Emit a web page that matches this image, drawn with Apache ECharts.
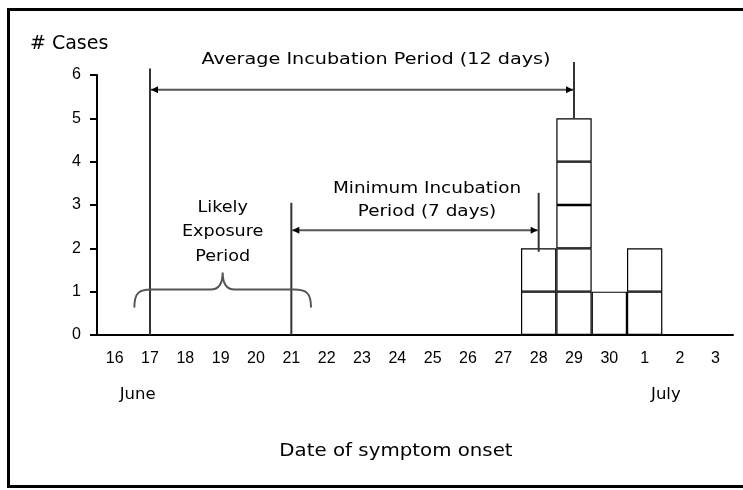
<!DOCTYPE html>
<html>
<head>
<meta charset="utf-8">
<script src="https://cdn.jsdelivr.net/npm/echarts@6/dist/echarts.min.js"></script>
<style>
    html, body { margin: 0; padding: 0; background: #fff; }
    #chart { width: 743px; height: 490px; }
</style>
</head>
<body>
<div id="chart"></div>
<script>
    // onset days, June 16 -> July 3
    const days = ['16', '17', '18', '19', '20', '21', '22', '23', '24', '25', '26', '27', '28', '29', '30', '1', '2', '3'];
    const cases = [0, 0, 0, 0, 0, 0, 0, 0, 0, 0, 0, 0, 2, 5, 1, 2, 0, 0];
    const yTicks = [0, 1, 2, 3, 4, 5, 6];

    // annotation lines: [day, from, to]
    const markers = [['17', 0, 6.15], ['29', 5, 6.3], ['21', 0, 3.05], ['28', 1.92, 3.28]];
    const averagePeriod = { from: '17', to: '29', level: 5.66 };
    const minimumPeriod = { from: '21', to: '28', level: 2.42 };
    const exposurePeriod = { from: '17', to: '21', level: 1.05 };

    const FONT = '"DejaVu Sans", sans-serif';

    // one stacked layer per case so every case is its own box
    const maxCases = Math.max.apply(null, cases);
    const layers = [];
    for (let k = 1; k <= maxCases; k++) {
        layers.push({
            type: 'bar',
            stack: 'cases',
            barCategoryGap: '0%',
            data: cases.map(c => (c >= k ? 1 : '-')),
            itemStyle: { color: '#fff', borderColor: '#000', borderWidth: 1.2 },
            emphasis: { disabled: true },
            silent: true
        });
    }

    function arrowHead (x, y, dir) {
        return {
            type: 'polygon',
            shape: { points: [[x, y], [x - dir * 7, y - 3.5], [x - dir * 7, y + 3.5]] },
            style: { fill: '#000' }
        };
    }

    // slightly widened to match the loose letter spacing of the original
    function text (str, x, y, size, sx) {
        return {
            type: 'text',
            x: x,
            y: y,
            scaleX: sx || 1,
            style: {
                text: str, x: 0, y: 0, align: 'center', verticalAlign: 'middle',
                font: size + 'px ' + FONT, fill: '#000'
            }
        };
    }

    function renderNotes (params, api) {
        const bw = api.size([1, 0])[0];
        const px = day => api.coord([days.indexOf(day), 0])[0];
        const py = v => api.coord([0, v])[1];
        const children = [];

        markers.forEach(m => {
            children.push({
                type: 'line',
                shape: { x1: px(m[0]), y1: py(m[1]), x2: px(m[0]), y2: py(m[2]) },
                style: { stroke: '#333', lineWidth: 2 }
            });
        });

        [averagePeriod, minimumPeriod].forEach(p => {
            const x1 = px(p.from) + 1, x2 = px(p.to) - 1, y = py(p.level);
            children.push({
                type: 'line',
                shape: { x1: x1, y1: y, x2: x2, y2: y },
                style: { stroke: '#555', lineWidth: 2 }
            });
            children.push(arrowHead(x1, y, -1), arrowHead(x2, y, 1));
        });

        // curly brace under the exposure window
        const xc = (px(exposurePeriod.from) + px(exposurePeriod.to)) / 2 + 2;
        const xl = xc - 2.5 * bw, xr = xc + 2.5 * bw;
        const yh = py(exposurePeriod.level), yEnd = yh + 18, yPeak = yh - 17;
        const d = 'M' + xl + ' ' + yEnd +
            ' C' + xl + ' ' + (yh + 3) + ' ' + (xl + 5) + ' ' + yh + ' ' + (xl + 17) + ' ' + yh +
            ' L' + (xc - 12) + ' ' + yh +
            ' C' + (xc - 4) + ' ' + yh + ' ' + xc + ' ' + (yh - 5) + ' ' + xc + ' ' + yPeak +
            ' C' + xc + ' ' + (yh - 5) + ' ' + (xc + 4) + ' ' + yh + ' ' + (xc + 12) + ' ' + yh +
            ' L' + (xr - 17) + ' ' + yh +
            ' C' + (xr - 5) + ' ' + yh + ' ' + xr + ' ' + (yh + 3) + ' ' + xr + ' ' + yEnd;
        children.push({
            type: 'path',
            shape: { pathData: d },
            style: { stroke: '#555', lineWidth: 2, fill: null }
        });

        // labels
        const ya = py(averagePeriod.level);
        children.push(text('Average Incubation Period (12 days)',
            (px(averagePeriod.from) + px(averagePeriod.to)) / 2 + 14, ya - 30, 16, 1.2));
        const ym = py(minimumPeriod.level);
        const xm = (px(minimumPeriod.from) + px(minimumPeriod.to)) / 2 + 12;
        children.push(text('Minimum Incubation', xm, ym - 41, 16, 1.15));
        children.push(text('Period (7 days)', xm, ym - 18, 16, 1.15));
        children.push(text('Likely', xc, yh - 82, 16, 1.1));
        children.push(text('Exposure', xc, yh - 58, 16, 1.1));
        children.push(text('Period', xc, yh - 33, 16, 1.1));

        const y0 = py(0);
        children.push(text('June', px('16') + 0.65 * bw, y0 + 60, 15, 1.1));
        children.push(text('July', px('1') + 0.6 * bw, y0 + 60, 15, 1.1));
        children.push(text('Date of symptom onset', 396, y0 + 116, 18, 1.1));

        return { type: 'group', children: children };
    }

    const chart = echarts.init(document.getElementById('chart'));
    chart.setOption({
        animation: false,
        backgroundColor: '#fff',
        grid: { left: 97, right: 10, top: 75, bottom: 155 },
        xAxis: {
            type: 'category',
            data: days,
            axisLine: { lineStyle: { color: '#000', width: 2 } },
            axisTick: { length: 6, lineStyle: { color: '#000', width: 2 } },
            axisLabel: { color: '#000', fontSize: 16, fontFamily: '"Liberation Sans", Arial, sans-serif', margin: 16 }
        },
        yAxis: {
            type: 'value',
            min: yTicks[0],
            max: yTicks[yTicks.length - 1],
            interval: 1,
            splitLine: { show: false },
            axisLine: { show: true, lineStyle: { color: '#000', width: 2 } },
            axisTick: { show: true, length: 7, lineStyle: { color: '#000', width: 2 } },
            axisLabel: { color: '#000', fontSize: 16, fontFamily: '"Liberation Sans", Arial, sans-serif', margin: 16 }
        },
        graphic: [
            {
                type: 'rect',
                shape: { x: 8.5, y: 9.5, width: 760, height: 477 },
                style: { fill: null, stroke: '#000', lineWidth: 3 },
                silent: true
            },
            {
                type: 'text',
                left: 30,
                top: 35,
                style: { text: '# Cases', font: '19px ' + FONT, fill: '#000' }
            }
        ],
        series: layers.concat([{
            type: 'custom',
            renderItem: renderNotes,
            data: [[0, 0]],
            clip: false,
            silent: true,
            z: 5
        }])
    });
</script>
</body>
</html>
